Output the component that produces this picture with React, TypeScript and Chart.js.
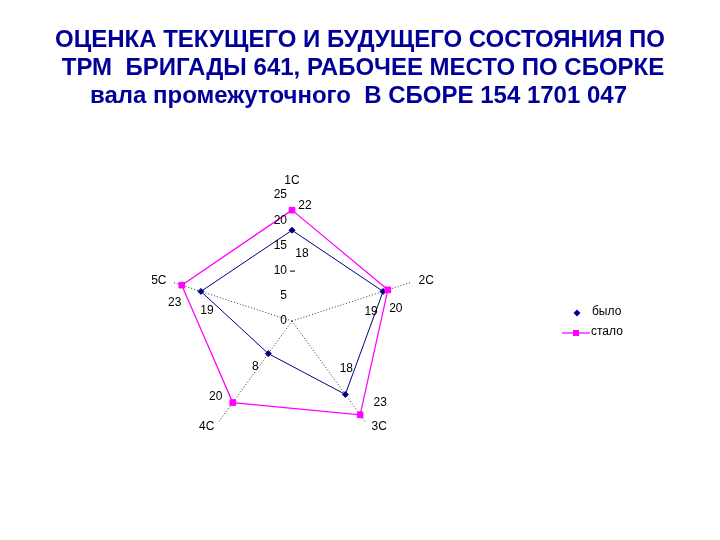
import React, { useEffect, useRef } from "react";
import { Chart, registerables } from "chart.js";

Chart.register(...registerables);

const titleLines = [
  "ОЦЕНКА ТЕКУЩЕГО И БУДУЩЕГО СОСТОЯНИЯ ПО",
  "ТРМ  БРИГАДЫ 641, РАБОЧЕЕ МЕСТО ПО СБОРКЕ",
  "вала промежуточного  В СБОРЕ 154 1701 047",
];
const categories = ["1C", "2C", "3C", "4C", "5C"];
const wasValues = [18, 19, 18, 8, 19];
const becameValues = [22, 20, 23, 20, 23];
const tickValues = [0, 5, 10, 15, 20, 25];
const seriesNames = ["было", "стало"];

const NAVY = "#000080";
const MAGENTA = "#FF00FF";
const FONT = '"Liberation Sans", Arial, sans-serif';

// label placement (style only)
const titleCenters = [360, 363, 358.5];
const titleBaselines = [47, 75, 103];
const wasLabelOffsets = [[10, 23], [-12, 20], [1, -26], [-13, 13], [6, 19]];
const becameLabelOffsets = [[13, -4], [8, 19], [20, -12], [-17, -6], [-7, 18]];
const pointLabelOffsets = [[0, 0], [1, 3], [5, -8], [-3, -8], [0, 3]];

const overlayPlugin = {
  id: "overlay",
  afterDraw(chart: any) {
    const ctx = chart.ctx;
    const scale = chart.scales.r;
    ctx.save();

    // title
    ctx.fillStyle = "#000099";
    ctx.font = `bold 24px ${FONT}`;
    ctx.textAlign = "center";
    ctx.textBaseline = "alphabetic";
    titleLines.forEach((t, i) => ctx.fillText(t, titleCenters[i], titleBaselines[i]));

    // tick labels
    ctx.fillStyle = "#000";
    ctx.font = `12px ${FONT}`;
    ctx.textAlign = "right";
    ctx.textBaseline = "middle";
    tickValues.forEach((v) => {
      const y = scale.yCenter - scale.getDistanceFromCenterForValue(v);
      ctx.fillText(String(v), scale.xCenter - 5, y);
      if (v === 10) {
        ctx.strokeStyle = "#000";
        ctx.lineWidth = 1;
        ctx.beginPath();
        ctx.moveTo(scale.xCenter - 2, y + 0.5);
        ctx.lineTo(scale.xCenter + 3, y + 0.5);
        ctx.stroke();
      }
    });

    // point labels
    ctx.textAlign = "center";
    categories.forEach((c, i) => {
      const p = scale.getPointPosition(i, scale.drawingArea + 14);
      ctx.fillText(c, p.x + pointLabelOffsets[i][0], p.y + pointLabelOffsets[i][1]);
    });

    // value labels
    const drawValues = (dsIndex: number, values: number[], offsets: number[][]) => {
      const meta = chart.getDatasetMeta(dsIndex);
      meta.data.forEach((el: any, i: number) => {
        ctx.fillText(String(values[i]), el.x + offsets[i][0], el.y + offsets[i][1]);
      });
    };
    drawValues(0, wasValues, wasLabelOffsets);
    drawValues(1, becameValues, becameLabelOffsets);

    // legend
    ctx.textAlign = "left";
    // было
    ctx.fillStyle = NAVY;
    ctx.beginPath();
    ctx.moveTo(577, 309.5);
    ctx.lineTo(580.5, 313);
    ctx.lineTo(577, 316.5);
    ctx.lineTo(573.5, 313);
    ctx.closePath();
    ctx.fill();
    ctx.fillStyle = "#000";
    ctx.fillText(seriesNames[0], 592, 312);
    // стало
    ctx.strokeStyle = MAGENTA;
    ctx.lineWidth = 1.25;
    ctx.beginPath();
    ctx.moveTo(562, 333);
    ctx.lineTo(590, 333);
    ctx.stroke();
    ctx.fillStyle = MAGENTA;
    ctx.fillRect(573, 330, 6, 6);
    ctx.fillStyle = "#000";
    ctx.fillText(seriesNames[1], 591, 332);

    ctx.restore();
  },
};

export default function App() {
  const ref = useRef<HTMLCanvasElement | null>(null);

  useEffect(() => {
    if (!ref.current) return;
    const chart = new Chart(ref.current, {
      type: "radar",
      data: {
        labels: categories,
        datasets: [
          {
            label: seriesNames[0],
            data: wasValues,
            borderColor: NAVY,
            backgroundColor: NAVY,
            borderWidth: 1,
            fill: false,
            pointStyle: "rectRot",
            pointRadius: 3,
            pointBorderWidth: 1,
            pointBackgroundColor: NAVY,
            pointBorderColor: NAVY,
            order: 1,
          },
          {
            label: seriesNames[1],
            data: becameValues,
            borderColor: MAGENTA,
            backgroundColor: MAGENTA,
            borderWidth: 1.25,
            fill: false,
            pointStyle: "rect",
            pointRadius: 4,
            pointBorderWidth: 1,
            pointBackgroundColor: MAGENTA,
            pointBorderColor: MAGENTA,
            order: 0,
          },
        ],
      },
      options: {
        responsive: false,
        animation: false,
        layout: { padding: { left: 166, right: 302, top: 195, bottom: 93 } },
        plugins: {
          legend: { display: false },
          title: { display: false },
          tooltip: { enabled: false },
        },
        scales: {
          r: {
            min: 0,
            max: 25,
            startAngle: 0,
            ticks: { display: false, stepSize: 5 },
            grid: { display: false },
            angleLines: {
              display: true,
              color: (c: any) => (c.index === 0 ? "rgba(0,0,0,0)" : "#333"),
              lineWidth: 1,
              borderDash: [1, 2],
            },
            pointLabels: { display: false },
          },
        },
      } as any,
      plugins: [overlayPlugin],
    });
    return () => chart.destroy();
  }, []);

  return (
    <div style={{ position: "fixed", left: 0, top: 0, width: 720, height: 540, background: "#fff" }}>
      <canvas ref={ref} width={720} height={540} style={{ display: "block" }} />
    </div>
  );
}
